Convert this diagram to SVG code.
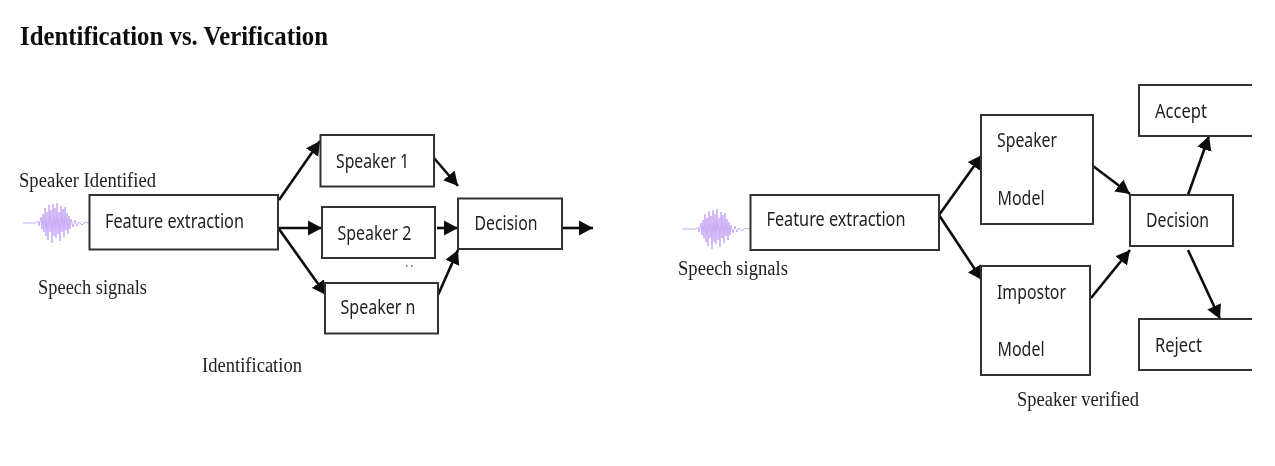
<svg xmlns="http://www.w3.org/2000/svg" width="1275" height="466" viewBox="0 0 1275 466">
<style>
.b{fill:#fff;stroke:#333;stroke-width:2}
.t{font-family:"Noto Sans","Open Sans",sans-serif;font-size:19.500px;fill:#222}
.s{font-family:"Liberation Serif",serif;font-size:20.500px;fill:#222}
.c line{stroke:#111;stroke-width:2.600;marker-end:url(#a)}
.w{fill:none;stroke:#c3a2f5;stroke-width:0.900;stroke-linejoin:round}
</style>
<defs>
<marker id="a" markerUnits="userSpaceOnUse" markerWidth="16" markerHeight="16" refX="14" refY="8" orient="auto"><path d="M0 0.500L14 8L0 15.500Z" fill="#111"/></marker>
<clipPath id="clip"><rect x="0" y="0" width="1252" height="466"/></clipPath>
<filter id="soft" x="0" y="0" width="100%" height="100%"><feGaussianBlur stdDeviation="0.450"/></filter>
</defs>
<rect width="1275" height="466" fill="#fff"/>
<g filter="url(#soft)">
<text x="20" y="45" style="font-family:'Liberation Serif',serif;font-size:27px;font-weight:bold;fill:#111" textLength="308" lengthAdjust="spacingAndGlyphs">Identification vs. Verification</text>
<g id="left-wave"><path class="w" d="M23 223H36L38 221L39 226L41 217L42 229L43 214L44 232L45 208L46 236L47 212L48 240L49 205L50 232L51 210L52 243L53 204L54 236L55 208L56 238L57 203L58 234L59 212L60 241L61 206L62 232L63 209L64 237L65 207L66 230L67 213L68 234L69 216L70 229L71 219L73 227L75 220L77 226L79 222L82 225L85 222L89 223"/></g>
<g id="right-wave"><path class="w" d="M682 229H696L698 227L699 232L701 223L702 235L703 220L704 238L705 214L706 242L707 218L708 246L709 211L710 238L711 216L712 249L713 210L714 242L715 214L716 244L717 209L718 240L719 218L720 247L721 212L722 238L723 215L724 243L725 213L726 236L727 219L728 240L729 222L730 235L731 225L733 233L735 226L737 232L739 228L742 231L745 228L750 229"/></g>
<g class="c" id="connectors">
<line x1="279" y1="200" x2="320" y2="141"/>
<line x1="279" y1="228" x2="322" y2="228"/>
<line x1="279" y1="229" x2="326" y2="295"/>
<line x1="434" y1="158" x2="458" y2="186"/>
<line x1="437" y1="228" x2="458" y2="228"/>
<line x1="438" y1="295" x2="458" y2="250"/>
<line x1="562" y1="228" x2="593" y2="228"/>
<line x1="939" y1="215" x2="982" y2="155"/>
<line x1="939" y1="215" x2="982" y2="280"/>
<line x1="1093" y1="166" x2="1130" y2="194"/>
<line x1="1091" y1="298" x2="1130" y2="250"/>
<line x1="1188" y1="195" x2="1209" y2="136"/>
<line x1="1188" y1="250" x2="1220" y2="319"/>
</g>
<g id="fe1"><rect class="b" x="89.5" y="195" width="188.5" height="54.5"/><text class="t" x="105" y="227.500" textLength="139" lengthAdjust="spacingAndGlyphs">Feature extraction</text></g>
<g id="speaker1"><rect class="b" x="320.500" y="135" width="113.500" height="51.500"/><text class="t" x="336" y="167.500" textLength="73" lengthAdjust="spacingAndGlyphs">Speaker 1</text></g>
<g id="speaker2"><rect class="b" x="322" y="207" width="113" height="51"/><text class="t" x="337.500" y="239.500" textLength="74" lengthAdjust="spacingAndGlyphs">Speaker 2</text></g>
<g id="speakern"><rect class="b" x="325" y="283" width="113" height="50.500"/><text class="t" x="340.500" y="313.500" textLength="75" lengthAdjust="spacingAndGlyphs">Speaker n</text></g>
<g id="decision1"><rect class="b" x="458" y="198.500" width="104" height="50.500"/><text class="t" x="474.500" y="230" textLength="63" lengthAdjust="spacingAndGlyphs">Decision</text></g>
<g id="fe2"><rect class="b" x="750.500" y="195" width="188.500" height="55"/><text class="t" x="766.500" y="226" textLength="139" lengthAdjust="spacingAndGlyphs">Feature extraction</text></g>
<g id="speaker-model"><rect class="b" x="981" y="115" width="112" height="109"/><text class="t" x="997" y="146.500" textLength="60" lengthAdjust="spacingAndGlyphs">Speaker</text><text class="t" x="997.500" y="204.500" textLength="47" lengthAdjust="spacingAndGlyphs">Model</text></g>
<g id="impostor-model"><rect class="b" x="981" y="266" width="109" height="109"/><text class="t" x="997" y="298.500" textLength="69" lengthAdjust="spacingAndGlyphs">Impostor</text><text class="t" x="997.500" y="355.500" textLength="47" lengthAdjust="spacingAndGlyphs">Model</text></g>
<g id="decision2"><rect class="b" x="1130" y="195" width="103" height="51"/><text class="t" x="1146" y="226.500" textLength="63" lengthAdjust="spacingAndGlyphs">Decision</text></g>
<g id="accept" clip-path="url(#clip)"><rect class="b" x="1139" y="85" width="130" height="51"/><text class="t" x="1155" y="117.500" textLength="52" lengthAdjust="spacingAndGlyphs">Accept</text></g>
<g id="reject" clip-path="url(#clip)"><rect class="b" x="1139" y="319" width="130" height="51"/><text class="t" x="1155" y="351.500" textLength="47" lengthAdjust="spacingAndGlyphs">Reject</text></g>
<text class="s" x="19" y="187" textLength="137" lengthAdjust="spacingAndGlyphs">Speaker Identified</text>
<text class="s" x="38" y="294" textLength="109" lengthAdjust="spacingAndGlyphs">Speech signals</text>
<text class="s" x="202" y="372" textLength="100" lengthAdjust="spacingAndGlyphs">Identification</text>
<text class="s" x="678" y="275" textLength="110" lengthAdjust="spacingAndGlyphs">Speech signals</text>
<text class="s" x="1017" y="406" textLength="122" lengthAdjust="spacingAndGlyphs">Speaker verified</text>
<path d="M406 266h1.500M411 266h1.500" stroke="#555" stroke-width="1.500" fill="none"/>
</g>
</svg>
